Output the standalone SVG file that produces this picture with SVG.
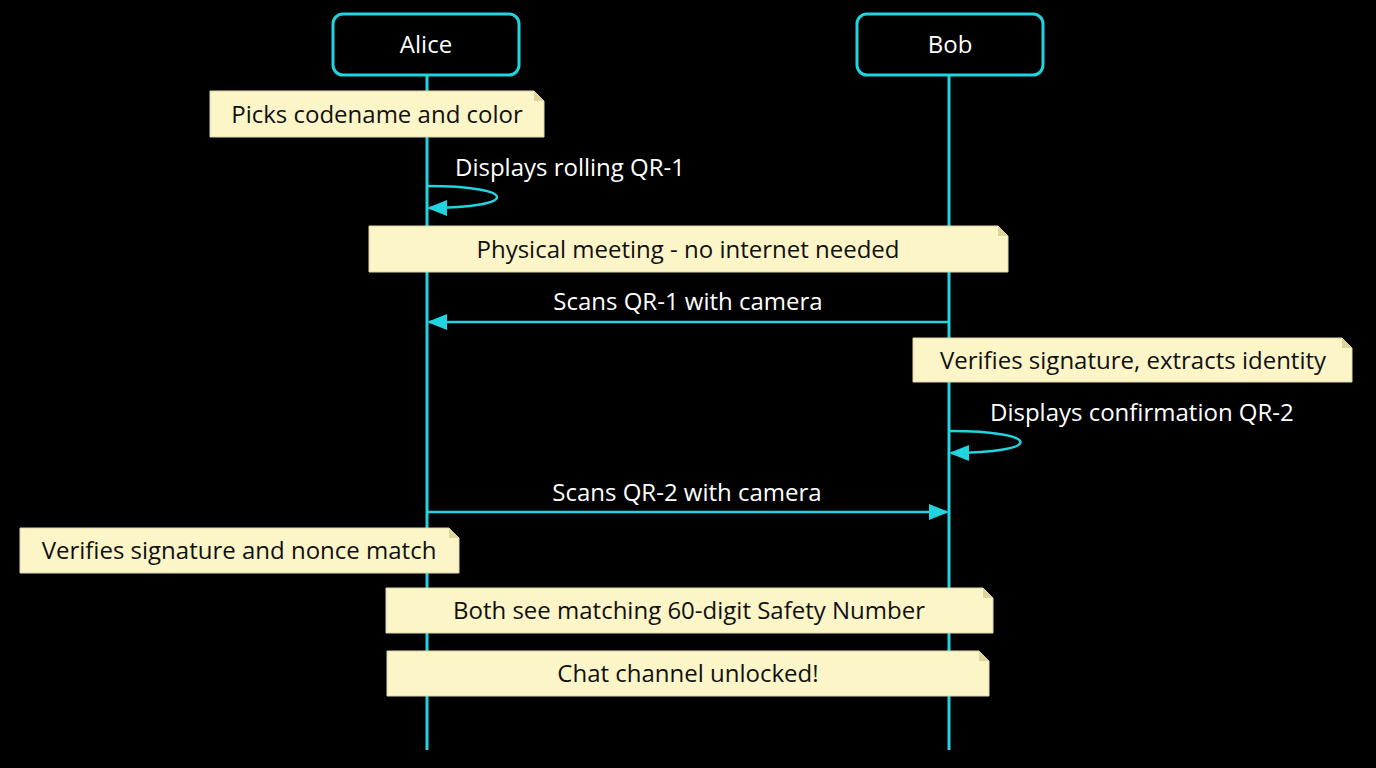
<svg xmlns="http://www.w3.org/2000/svg" width="1376" height="768" viewBox="0 0 1376 768">
<style>
.p{fill:#000;stroke:#22d3e0;stroke-width:3}
.pt{fill:#fff;font:24px "Open Sans","Noto Sans",sans-serif;text-anchor:middle}
.life{stroke:#22d3e0;stroke-width:3;fill:none}
.n{fill:#fbf5c8;stroke:#e0d9a6;stroke-width:1}
.f{fill:#ddd59a}
.nt{fill:#111;font:24px "Open Sans","Noto Sans",sans-serif;text-anchor:middle}
.m{stroke:#22d3e0;stroke-width:2.5;fill:none}
.mt{fill:#fff;font:24px "Open Sans","Noto Sans",sans-serif}
</style>
<defs><marker id="a" markerWidth="20" markerHeight="16" refX="18" refY="8" orient="auto" markerUnits="userSpaceOnUse"><path d="M0,0L20,8L0,16Z" fill="#22d3e0"/></marker></defs>
<rect width="1376" height="768" fill="#000"/>
<g id="lifelines"><line class="life" x1="427" y1="75" x2="427" y2="750"/><line class="life" x1="949" y1="75" x2="949" y2="750"/></g>
<g id="alice"><rect class="p" x="333" y="14" width="186" height="61" rx="10"/><text class="pt" x="426" y="53">Alice</text></g>
<g id="bob"><rect class="p" x="857" y="14" width="186" height="61" rx="10"/><text class="pt" x="950" y="53">Bob</text></g>
<g id="connectors">
<path class="m" d="M427,186 C520,186 520,208 429,208" marker-end="url(#a)"/>
<text class="mt" x="455" y="176">Displays rolling QR-1</text>
<line class="m" x1="949" y1="322" x2="429" y2="322" marker-end="url(#a)"/>
<text class="mt" x="688" y="310" text-anchor="middle">Scans QR-1 with camera</text>
<path class="m" d="M949,431 C1044,431 1044,453 951,453" marker-end="url(#a)"/>
<text class="mt" x="990" y="421">Displays confirmation QR-2</text>
<line class="m" x1="427" y1="512" x2="947" y2="512" marker-end="url(#a)"/>
<text class="mt" x="687" y="501" text-anchor="middle">Scans QR-2 with camera</text>
</g>
<g id="note1"><path class="n" d="M210,91H534L544,101V137H210Z"/><path class="f" d="M534,91L544,101H534Z"/><text class="nt" x="377" y="123">Picks codename and color</text></g>
<g id="note2"><path class="n" d="M369,226H998L1008,236V272H369Z"/><path class="f" d="M998,226L1008,236H998Z"/><text class="nt" x="688" y="258">Physical meeting - no internet needed</text></g>
<g id="note3"><path class="n" d="M913,338H1342L1352,348V382H913Z"/><path class="f" d="M1342,338L1352,348H1342Z"/><text class="nt" x="1133" y="369">Verifies signature, extracts identity</text></g>
<g id="note4"><path class="n" d="M20,528H449L459,538V573H20Z"/><path class="f" d="M449,528L459,538H449Z"/><text class="nt" x="239" y="559">Verifies signature and nonce match</text></g>
<g id="note5"><path class="n" d="M386,588H983L993,598V633H386Z"/><path class="f" d="M983,588L993,598H983Z"/><text class="nt" x="689" y="619">Both see matching 60-digit Safety Number</text></g>
<g id="note6"><path class="n" d="M387,651H979L989,661V696H387Z"/><path class="f" d="M979,651L989,661H979Z"/><text class="nt" x="688" y="682" font-weight="bold">Chat channel unlocked!</text></g>
</svg>
